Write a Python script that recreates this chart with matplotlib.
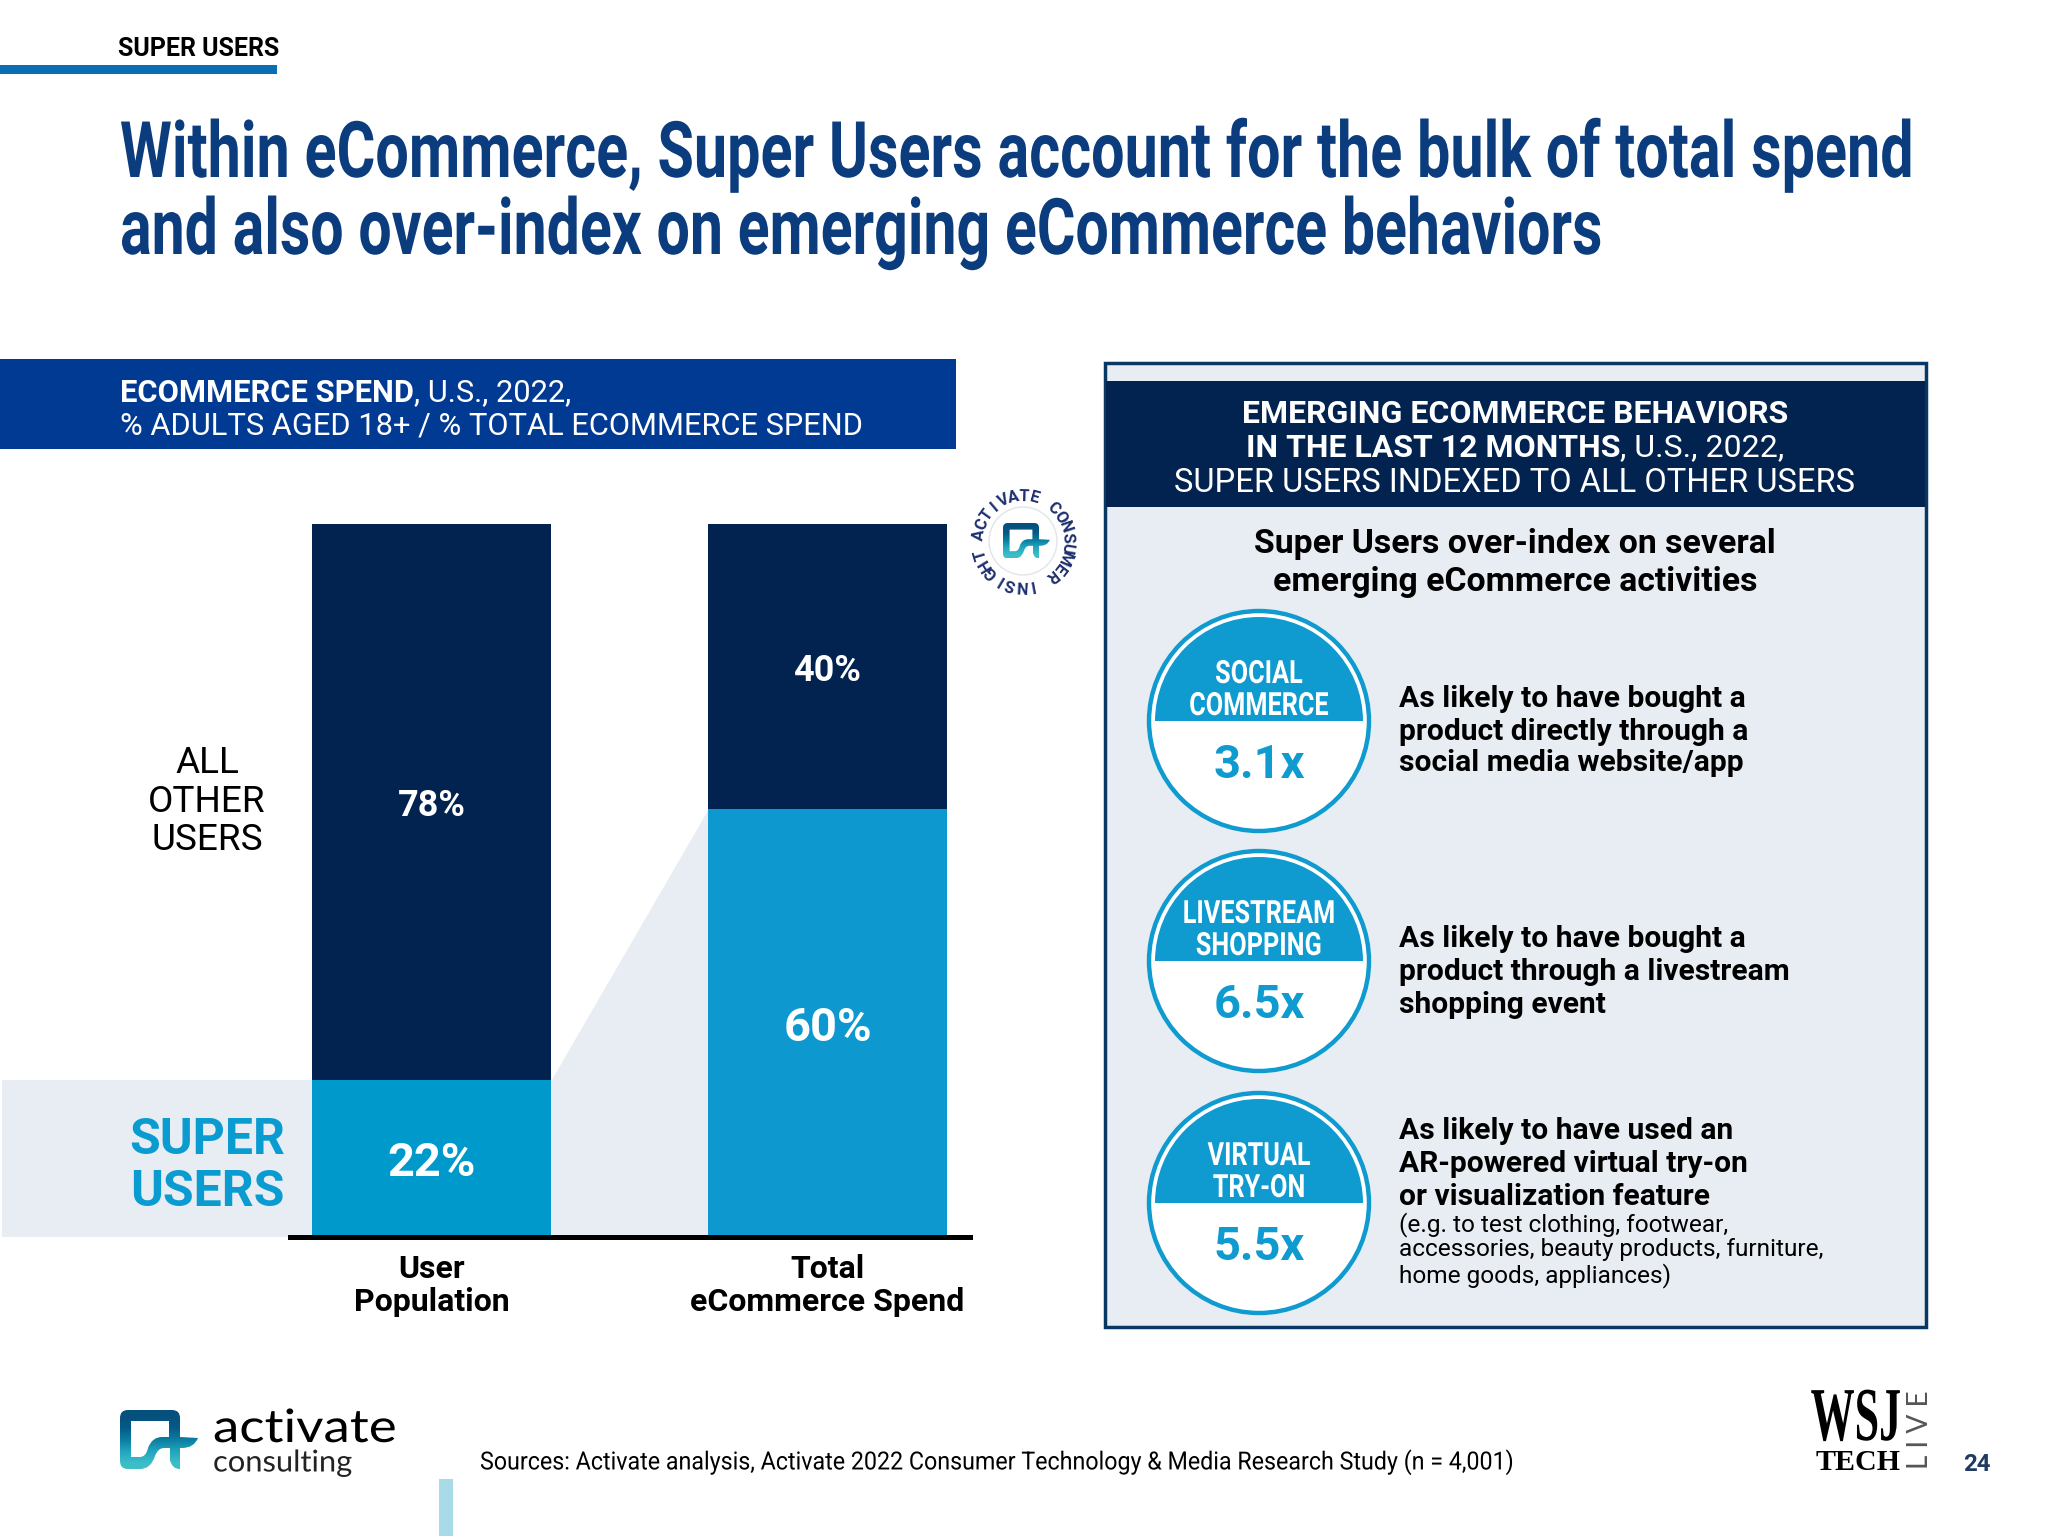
import numpy as np
import matplotlib
matplotlib.use('Agg')
import matplotlib.pyplot as plt
from matplotlib.patches import Rectangle, Circle, PathPatch
from matplotlib.path import Path
from matplotlib.patheffects import AbstractPathEffect
from matplotlib.transforms import Affine2D

# chart data
categories = ['User\nPopulation', 'Total\neCommerce Spend']
super_users = [22, 60]
other_users = [78, 40]
super_sizes = [47, 47]
other_sizes = [36, 36]

behaviors = [['SOCIAL', 'COMMERCE'], ['LIVESTREAM', 'SHOPPING'], ['VIRTUAL', 'TRY-ON']]
multipliers = ['3.1x', '6.5x', '5.5x']
descriptions = [
    ['As likely to have bought a', 'product directly through a', 'social media website/app'],
    ['As likely to have bought a', 'product through a livestream', 'shopping event'],
    ['As likely to have used an', 'AR-powered virtual try-on', 'or visualization feature'],
]
footnote = ['(e.g. to test clothing, footwear,', 'accessories, beauty products, furniture,',
            'home goods, appliances)']

NAVY = '#022250'
ROYAL = '#013A93'
BLUE = '#0F9BCF'
PALE = '#E8EDF3'
ROBOTO = ['Roboto', 'DejaVu Sans']
LATO = ['Lato', 'DejaVu Sans']

W, H = 2048, 1536
fig = plt.figure(figsize=(W / 100, H / 100), dpi=100, facecolor='white')
bg = fig.add_axes([0, 0, 1, 1])
bg.set_xlim(0, W)
bg.set_ylim(H, 0)
bg.axis('off')


class Reshape(AbstractPathEffect):
    # no condensed font here, so scale the glyphs about a fixed point
    def __init__(self, sx, sy, x0, y0):
        super().__init__()
        self.sx, self.sy = sx, sy
        self.x0, self.y0 = x0, y0

    def draw_path(self, renderer, gc, tpath, affine, rgbFace=None):
        shape = Affine2D().translate(-self.x0, -self.y0).scale(self.sx, self.sy).translate(self.x0, self.y0)
        renderer.draw_path(gc, tpath, affine + shape, rgbFace)


def px(size):
    return size * 0.72


def put(x, y, s, size, color='black', weight='normal', ha='left', family=ROBOTO, sx=None, sy=1, va='center_baseline',
        **kw):
    t = bg.text(x, y, s, fontsize=px(size), color=color, fontweight=weight, ha=ha, va=va, family=family, **kw)
    if sx is not None:
        x0, y0 = bg.transData.transform((x, y))
        t.set_path_effects([Reshape(sx, sy, x0, y0)])
    return t


def box(x0, y0, x1, y1, color, z=1, **kw):
    bg.add_patch(Rectangle((x0, y0), x1 - x0, y1 - y0, facecolor=color, edgecolor='none', zorder=z, **kw))


def mixed(x, y, bold, plain, size, color, ha='left'):
    # bold run followed by a regular run on one line
    r = fig.canvas.get_renderer()
    a = put(x, y, bold, size, color, 'bold', zorder=5)
    b = put(x, y, plain, size, color, zorder=5)
    wa = a.get_window_extent(r).width
    wb = b.get_window_extent(r).width
    left = x - (wa + wb) / 2 if ha == 'center' else x
    a.set_x(left)
    b.set_x(left + wa)


def logo_mark(x, y, scale, z=6):
    # activate mark, unit shape is 78 x 59
    P = Path
    verts = [(8, 0), (52, 0), (60, 0), (60, 8), (60, 27), (78, 28), (74, 38), (62, 38), (60, 38),
             (60, 59), (52, 59), (50, 50), (50, 38), (44, 38), (38, 38), (35, 46), (31, 59), (20, 59),
             (8, 59), (0, 59), (0, 51), (0, 8), (0, 0), (8, 0),
             (11, 11), (11, 47), (20, 47), (26, 47), (28, 38), (32, 27), (42, 27), (49, 27), (49, 11), (11, 11)]
    codes = [P.MOVETO, P.LINETO, P.CURVE3, P.CURVE3, P.LINETO, P.LINETO, P.CURVE3, P.CURVE3, P.LINETO,
             P.LINETO, P.CURVE3, P.CURVE3, P.LINETO, P.LINETO, P.CURVE3, P.CURVE3, P.CURVE3, P.CURVE3,
             P.LINETO, P.CURVE3, P.CURVE3, P.LINETO, P.CURVE3, P.CURVE3,
             P.MOVETO, P.LINETO, P.LINETO, P.CURVE3, P.CURVE3, P.CURVE3, P.CURVE3, P.LINETO, P.LINETO, P.LINETO]
    verts = np.array(verts, float) * scale + [x, y]
    patch = PathPatch(Path(verts, codes), facecolor='none', edgecolor='none', transform=bg.transData)
    bg.add_patch(patch)
    grad = np.array([[5, 80, 125], [6, 90, 135], [10, 125, 160], [35, 165, 190], [60, 190, 200]], float) / 255
    im = bg.imshow(grad.reshape(5, 1, 3), extent=(x, x + 78 * scale, y + 59 * scale, y), aspect='auto',
                   interpolation='bilinear', zorder=z)
    im.set_clip_path(patch)
    bg.set_xlim(0, W)
    bg.set_ylim(H, 0)


# top tab and title
put(118, 47, 'SUPER USERS', 25, 'black', 'bold')
box(0, 65, 277, 74, '#0A6EB4')
fig.canvas.draw()
titles = ['Within eCommerce, Super Users account for the bulk of total spend',
          'and also over-index on emerging eCommerce behaviors']
title_widths = [1794, 1483]
title_base = [177, 254]
for s, w, y in zip(titles, title_widths, title_base):
    t = put(120, y, s, 57, '#0B3C7D', 'bold', va='baseline')
    fit = w / t.get_window_extent(fig.canvas.get_renderer()).width
    t.remove()
    put(120, y, s, 57, '#0B3C7D', 'bold', va='baseline', sx=fit, sy=78 / 57)

# left header
box(0, 359, 956, 449, ROYAL)
mixed(120, 390, 'ECOMMERCE SPEND', ', U.S., 2022,', 30.9, 'white')
put(120, 423, '% ADULTS AGED 18+ / % TOTAL ECOMMERCE SPEND', 30.9, 'white', zorder=5)

# stacked bars
ax = fig.add_axes([290 / W, 1 - 1237 / H, 680 / W, 713 / H], facecolor='none')
xs = np.arange(len(categories))
bar_w = 0.6035
ax.set_xlim((290 - 431.5) / 396, (970 - 431.5) / 396)
ax.set_ylim(0, 100)
ax.fill_between([(2 - 431.5) / 396, xs[0] - bar_w / 2], 0, super_users[0],
                color=PALE, lw=0, clip_on=False, zorder=1)
ax.fill_between([xs[0] + bar_w / 2, xs[1] - bar_w / 2], 0, [super_users[0], super_users[1]],
                color=PALE, lw=0, zorder=1)
ax.bar(xs, super_users, bar_w, color=['#0099CC', '#0D99CF'], zorder=2)
ax.bar(xs, other_users, bar_w, bottom=super_users, color=NAVY, zorder=2)
for i in xs:
    ax.text(i, super_users[i] / 2, f'{super_users[i]}%', color='white', fontsize=px(super_sizes[i]),
            fontweight='bold', ha='center', va='center_baseline', family=ROBOTO, zorder=3)
    ax.text(i, super_users[i] + other_users[i] / 2, f'{other_users[i]}%', color='white',
            fontsize=px(other_sizes[i]), fontweight='bold', ha='center', va='center_baseline', family=ROBOTO,
            zorder=3)
for s in ['top', 'left', 'right']:
    ax.spines[s].set_visible(False)
ax.spines['bottom'].set_linewidth(3.6)
ax.spines['bottom'].set_color('black')
ax.spines['bottom'].set_zorder(4)
ax.set_yticks([])
ax.set_xticks(xs)
ax.set_xticklabels(categories, fontsize=px(32), fontweight='bold', family=ROBOTO, linespacing=1.13)
ax.tick_params(axis='x', length=0, pad=12)

for y, s in zip([759, 798, 836], ['ALL', 'OTHER', 'USERS']):
    put(207, y, s, 37, 'black', ha='center')
for y, s in zip([1136, 1187], ['SUPER', 'USERS']):
    # the pale band belongs to the chart axes, so these go above it
    ax.text(207, y, s, transform=bg.transData, fontsize=px(50), color='#0A9BD0', fontweight='bold', ha='center',
            va='center_baseline', family=ROBOTO, clip_on=False, zorder=5)

# seal
cx, cy = 1023, 541
bg.add_patch(Circle((cx, cy), 34, facecolor='white', edgecolor='#E2E4E8', lw=1, zorder=3))
logo_mark(cx - 20, cy - 18, 0.6)
seal = 'ACTIVATE CONSUMER INSIGHT'
for i, ch in enumerate(seal):
    ang = np.deg2rad(172 - i * 335 / (len(seal) - 1))
    bg.text(cx + 46 * np.cos(ang), cy - 46 * np.sin(ang), ch, fontsize=px(16.5), fontweight='bold', color='#1D2F6F',
            rotation=np.rad2deg(ang) - 90, rotation_mode='anchor', ha='center', va='center_baseline', family=ROBOTO)

# right panel
bg.add_patch(Rectangle((1105, 363), 821, 964, facecolor=PALE, edgecolor='#073763', lw=2.5, zorder=1))
box(1106, 381, 1925, 507, NAVY, z=2)
mid = 1515
put(mid, 411, 'EMERGING ECOMMERCE BEHAVIORS', 32, 'white', 'bold', ha='center', zorder=5)
mixed(mid, 445, 'IN THE LAST 12 MONTHS', ', U.S., 2022,', 32, 'white', ha='center')
put(mid, 479, 'SUPER USERS INDEXED TO ALL OTHER USERS', 32.6, 'white', ha='center', zorder=5)
put(mid, 541, 'Super Users over-index on several', 33.8, 'black', 'bold', ha='center', zorder=5)
put(mid, 578, 'emerging eCommerce activities', 33.8, 'black', 'bold', ha='center', zorder=5)

centers = [721, 961, 1203]
for k, yc in enumerate(centers):
    bg.add_patch(Circle((1259, yc), 110, facecolor='white', edgecolor=BLUE, lw=3.2, zorder=3))
    clip = Circle((1259, yc), 104, transform=bg.transData)
    band = Rectangle((1140, yc - 115), 240, 115, facecolor=BLUE, edgecolor='none', zorder=4)
    bg.add_patch(band)
    band.set_clip_path(clip)
    put(1259, yc - 50, behaviors[k][0], 32, 'white', 'bold', ha='center', sx=0.79, zorder=5)
    put(1259, yc - 18, behaviors[k][1], 32, 'white', 'bold', ha='center', sx=0.79, zorder=5)
    put(1259, yc + 40, multipliers[k], 47, BLUE, 'bold', ha='center', zorder=5)

desc_y = [[696, 729, 760], [936, 969, 1002], [1128, 1161, 1194]]
for lines, ys in zip(descriptions, desc_y):
    for s, y in zip(lines, ys):
        put(1399, y, s, 30, 'black', 'bold', zorder=5)
for s, y in zip(footnote, [1222, 1247, 1273]):
    put(1399, y, s, 24.4, 'black', zorder=5)

# footer
logo_mark(120, 1410, 1.0)
put(213, 1425, 'activate', 46, 'black', family=LATO, sx=1.15)
put(213, 1460, 'consulting', 30, '#222222', family=LATO, sx=1.03)
put(480, 1459, 'Sources: Activate analysis, Activate 2022 Consumer Technology & Media Research Study (n = 4,001)',
    25, 'black', sx=0.93)
box(439, 1479, 453, 1536, '#A8DAE8')
put(1856, 1440, 'WSJ', 44, 'black', 'bold', ha='center', family=['Liberation Serif'], va='baseline', sx=1.0, sy=1.73)
put(1858, 1459, 'TECH', 30, 'black', 'bold', ha='center', family=['Liberation Serif'])
bg.text(1920, 1430, 'L I V E', fontsize=px(28), color='#555555', rotation=90, ha='center', va='center', family=LATO)
put(1977, 1462, '24', 24, '#1F3A63', 'bold', ha='center')

fig.savefig('out.png', dpi=100, facecolor='white')
